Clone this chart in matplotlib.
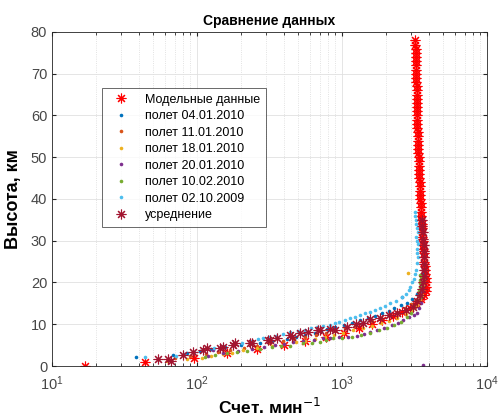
import matplotlib
matplotlib.use("Agg")
import matplotlib.pyplot as plt
from matplotlib.ticker import LogLocator, FixedLocator, NullLocator

plt.rcParams['font.family'] = ['Liberation Sans', 'DejaVu Sans']

title = "Сравнение данных"
xlabel = "Счет. мин$^{-1}$"
ylabel = "Высота, км"

# Model data (height km, counts/min)
model_h = list(range(0, 79))
model_x = [17, 44, 95, 160, 260, 400, 560, 780, 1030, 1300, 1600, 1900, 2250, 2600, 2950, 3250,
           3500, 3680, 3780, 3820, 3800, 3780, 3760, 3740, 3720, 3700, 3680, 3660, 3640, 3620,
           3600, 3590, 3570, 3560, 3540, 3530, 3510, 3500, 3490, 3480, 3470, 3460, 3450, 3440,
           3430, 3420, 3410, 3400, 3390, 3380, 3370, 3360, 3350, 3345, 3340, 3330, 3320, 3315,
           3310, 3305, 3300, 3295, 3290, 3285, 3280, 3275, 3270, 3265, 3260, 3255, 3250, 3245,
           3240, 3235, 3230, 3225, 3220, 3210, 3200]

# Flight 04.01.2010
f1_x = [38, 68, 85, 105, 125, 155, 200, 270, 330, 415, 480, 560, 650, 720, 790, 900, 1030, 1180,
        1330, 1500, 1700, 1900, 2100, 2300, 2550, 2800, 3050, 2600, 3300, 3450, 3550, 3600, 3620, 3580]
f1_h = [2.2, 2.6, 3.0, 3.5, 4.0, 4.5, 5.0, 5.5, 6.0, 6.5, 7.0, 7.5, 8.0, 8.5, 8.9, 9.4, 9.9, 10.4,
        10.9, 11.4, 12.0, 12.6, 13.2, 13.8, 14.5, 15.2, 16.0, 16.5, 17.2, 18.0, 19.0, 20.0, 21.0, 22.0]

# Flight 11.01.2010
f2_x = [70, 90, 115, 140, 170, 210, 260, 320, 390, 470, 560, 660, 780, 900, 1050, 1220, 1400, 1600,
        1850, 2100, 2400, 2700, 3000, 3250, 3450, 3550, 3620, 3650, 3640]
f2_h = [1.8, 2.3, 2.9, 3.4, 3.9, 4.4, 4.9, 5.5, 6.0, 6.5, 7.0, 7.5, 8.0, 8.5, 9.0, 9.6, 10.2, 10.8,
        11.5, 12.2, 13.0, 13.8, 14.8, 15.8, 17.0, 18.5, 20.0, 21.5, 23.0]

# Flight 18.01.2010
f3_x = [62, 85, 108, 125, 150, 175, 208, 260, 330, 400, 480, 560, 650, 760, 880, 1020, 1200, 1400,
        1600, 1850, 2100, 2400, 2750, 3050, 3300, 3450, 3550, 3600, 3620, 3650, 2860]
f3_h = [1.3, 1.7, 1.9, 2.3, 2.8, 3.2, 3.8, 4.2, 4.8, 5.3, 5.7, 6.1, 6.5, 7.0, 7.5, 8.0, 8.6, 9.1,
        9.5, 10.2, 10.8, 11.5, 12.5, 13.4, 14.5, 15.8, 17.0, 18.2, 19.5, 20.5, 22.3]

# Flight 20.01.2010
f4_x = [120, 128, 150, 192, 240, 290, 345, 400, 460, 540, 640, 740, 830, 950, 1100, 1270, 1420, 1560,
        1750, 1950, 2200, 2450, 2630, 2900, 3150, 3290, 3400, 3480, 3520, 3560, 3580, 3600, 3620, 3640]
f4_h = [2.4, 3.8, 3.0, 3.6, 4.0, 4.5, 5.0, 5.3, 5.7, 6.0, 6.3, 6.6, 6.7, 6.9, 7.0, 7.3, 7.7, 8.1,
        8.6, 9.2, 9.8, 10.4, 11.0, 11.7, 12.2, 12.7, 13.8, 15.0, 16.5, 18.0, 19.5, 21.0, 23.0, 0.2]

# Flight 10.02.2010
f5_x = [113, 133, 160, 190, 220, 270, 330, 380, 440, 540, 620, 700, 780, 870, 1000, 1180, 1350, 1550,
        1800, 2040, 2300, 2550, 2790, 3000, 3150, 3290, 3380, 3420, 3450, 3460, 3470, 3480, 3470, 3490]
f5_h = [2.2, 2.6, 3.0, 3.4, 3.6, 4.1, 4.6, 4.7, 4.8, 5.5, 5.6, 5.8, 6.2, 6.7, 6.8, 7.0, 7.5, 8.0,
        8.6, 9.1, 9.8, 10.6, 11.7, 12.8, 14.2, 15.8, 17.0, 18.0, 19.0, 19.8, 20.5, 21.2, 21.8, 16.5]

# Flight 02.10.2009
f6_x = [44, 72, 82, 95, 110, 130, 152, 180, 205, 240, 265, 285, 315, 350, 395, 440, 500, 560, 610,
        670, 740, 825, 890, 960, 1050, 1130, 1230, 1330, 1440, 1560, 1700, 1830, 1980, 2130, 2350,
        2600, 2750, 2880, 2960, 3050, 3150, 3200, 3250, 3300, 3350, 3310, 3280, 3320, 3300, 3260,
        3320, 3300, 3250, 3220, 3200, 3180]
f6_h = [2.2, 2.4, 2.8, 3.3, 3.8, 4.3, 4.8, 5.2, 5.6, 6.0, 6.4, 6.7, 7.0, 7.3, 7.7, 8.1, 8.4, 8.7,
        9.0, 9.3, 9.6, 9.8, 10.2, 10.5, 11.0, 11.5, 11.8, 12.2, 12.6, 13.0, 13.5, 13.9, 14.4, 15.0,
        15.6, 16.5, 17.3, 18.2, 19.0, 20.0, 20.8, 22.0, 23.0, 24.7, 26.0, 27.0, 28.0, 29.2, 30.0,
        31.0, 32.0, 33.0, 34.0, 35.0, 36.0, 37.0]

# Average
avg_x = [54, 63, 66, 80, 94, 110, 118, 144, 150, 177, 183, 232, 240, 308, 318, 356, 438, 450, 513,
         580, 680, 700, 830, 890, 1080, 1250, 1400, 1560, 1830, 2100, 2400, 2750, 3100, 3300, 3450,
         3550, 3600, 3650, 3680, 3700, 3680, 3650, 3700, 3620, 3600, 3580, 3550]
avg_h = [1.7, 1.7, 1.2, 2.6, 3.4, 3.8, 4.3, 4.3, 4.6, 5.0, 5.5, 5.5, 5.5, 6.2, 6.2, 6.6, 7.4, 7.0,
         7.9, 8.1, 8.6, 8.6, 8.9, 8.6, 9.3, 10.0, 10.3, 11.2, 11.5, 12.2, 12.8, 13.5, 14.1, 15.5,
         17.0, 18.5, 20.0, 21.5, 23.0, 24.5, 26.0, 27.5, 29.0, 30.5, 32.0, 33.5, 35.0]

flights = [
    ("полет 04.01.2010", f1_x, f1_h, (0.0, 0.447, 0.741)),
    ("полет 11.01.2010", f2_x, f2_h, (0.85, 0.325, 0.098)),
    ("полет 18.01.2010", f3_x, f3_h, (0.929, 0.694, 0.125)),
    ("полет 20.01.2010", f4_x, f4_h, (0.494, 0.184, 0.556)),
    ("полет 10.02.2010", f5_x, f5_h, (0.466, 0.674, 0.188)),
    ("полет 02.10.2009", f6_x, f6_h, (0.301, 0.745, 0.933)),
]

fig = plt.figure(figsize=(4.98, 4.17), dpi=100)
ax = fig.add_axes([0.1044, 0.1223, 0.8735, 0.8010])

ast = (8, 2, 0)
ax.plot(model_x, model_h, linestyle='none', marker=ast, markersize=7, markeredgewidth=0.8,
        color='red', label="Модельные данные")
for name, xs, hs, c in flights:
    ax.plot(xs, hs, linestyle='none', marker='o', markersize=2.6, markeredgewidth=0,
            color=c, label=name)
ax.plot(avg_x, avg_h, linestyle='none', marker=ast, markersize=7, markeredgewidth=0.8,
        color=(0.635, 0.078, 0.184), label="усреднение")

ax.set_xscale('log')
ax.set_xlim(10, 1e4)
ax.set_ylim(0, 80)
ax.yaxis.set_major_locator(FixedLocator(list(range(0, 81, 10))))
ax.yaxis.set_minor_locator(NullLocator())
ax.xaxis.set_major_locator(LogLocator(base=10, numticks=10))
ax.xaxis.set_minor_locator(LogLocator(base=10, subs=range(2, 10), numticks=20))

ax.grid(True, which='major', color=(0.88, 0.88, 0.88), linewidth=0.6)
ax.grid(True, which='minor', axis='x', color=(0.85, 0.85, 0.85), linestyle=':', linewidth=0.6)
ax.set_axisbelow(True)

ax.tick_params(which='both', direction='in', top=True, right=True, colors=(0.15, 0.15, 0.15),
               labelsize=10.5, labelcolor=(0.28, 0.28, 0.28))
ax.tick_params(axis='x', which='major', pad=6)
ax.tick_params(which='major', length=3)
ax.tick_params(which='minor', length=2)
for s in ax.spines.values():
    s.set_color((0.15, 0.15, 0.15))
    s.set_linewidth(0.6)

ax.set_title(title, fontsize=10, fontweight='bold', pad=5)
ax.set_xlabel(xlabel, fontsize=12.5, fontweight='bold', labelpad=3)
ax.set_ylabel(ylabel, fontsize=13, fontweight='bold', labelpad=6)

leg = ax.legend(loc='upper left', bbox_to_anchor=(0.115, 0.832), borderaxespad=0,
                fontsize=9, frameon=True, fancybox=False, edgecolor=(0.15, 0.15, 0.15),
                handlelength=2.2, labelspacing=0.36, borderpad=0.45, markerscale=1.0)
leg.get_frame().set_linewidth(0.6)

fig.savefig("out.png", dpi=100)
